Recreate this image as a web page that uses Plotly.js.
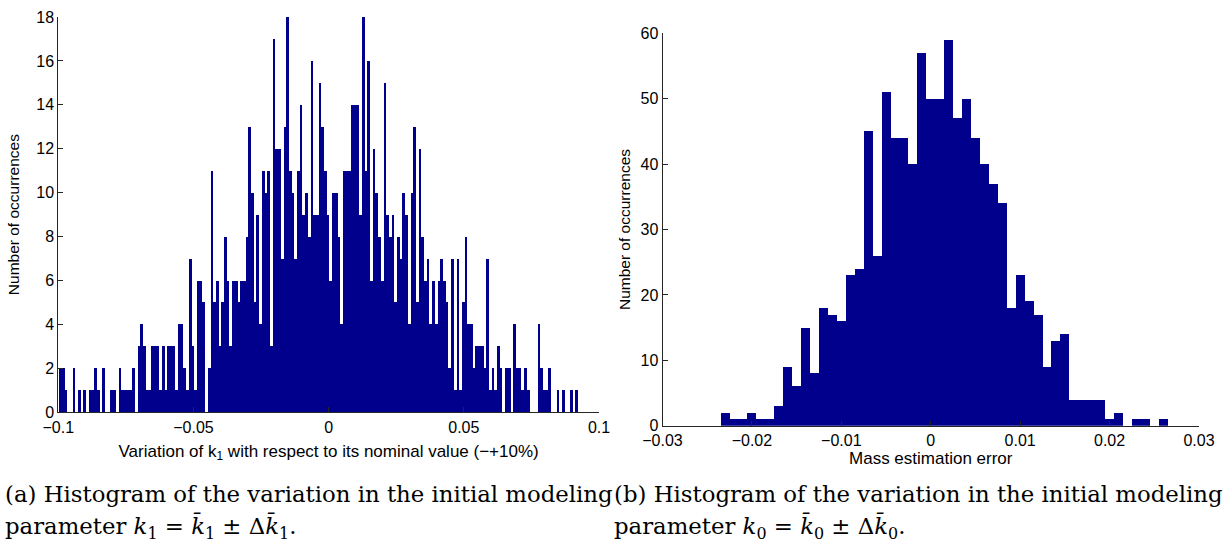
<!DOCTYPE html>
<html>
<head>
<meta charset="utf-8">
<script src="https://cdn.plot.ly/plotly-3.0.1.min.js"></script>
<style>
  html, body { margin: 0; padding: 0; background: #fff; }
  #chart { width: 1225px; height: 545px; }
</style>
</head>
<body>
<div id="chart"></div>
<script>
// ---- Data ----
// Left histogram: variation of k1, bins of width 0.001 starting at -0.0997
const k1BinStart = -0.0997;
const k1BinWidth = 0.001;
const k1Counts = [
  2,2,1,0,0,2,0,1,0,1, 0,1,1,2,1,0,2,0,0,1,
  1,0,2,1,1,1,1,2,0,3, 4,3,1,1,3,3,3,1,3,1,
  3,3,3,1,4,4,2,1,7,3, 1,6,6,5,0,2,11,5,6,3,
  5,8,6,3,6,6,5,6,6,8, 13,10,5,9,4,11,10,11,3,17,
  12,12,7,13,18,11,10,7,11,14, 9,10,8,16,9,9,15,13,11,9,
  6,10,10,8,4,11,11,11,14,14, 14,9,18,11,16,6,12,10,8,6,
  15,9,8,9,5,8,7,10,9,4, 10,13,5,12,8,6,7,4,6,4,
  6,7,6,5,2,7,1,7,1,5, 8,4,4,2,3,3,3,2,7,1,
  2,1,3,2,0,2,2,0,4,2, 2,1,2,1,0,0,0,4,2,1,
  1,2,0,0,1,0,1,0,0,1, 0,1
];
const k1TickVals = [-0.1, -0.05, 0, 0.05, 0.1];
const k1TickText = ['\u22120.1', '\u22120.05', '0', '0.05', '0.1'];

// Right histogram: mass estimation error, bins of width 0.001 centred on -0.023 ... 0.026
const massBinStart = -0.0235;
const massBinWidth = 0.001;
const massCounts = [
  2,1,1,2,1,1,3,9,6,15, 8,18,17,16,23,24,45,26,51,44,
  44,40,57,50,50,59,47,50,44,40, 37,34,18,23,19,17,9,13,14,4,
  4,4,4,1,2,0,1,1,0,1
];
const massTickVals = [-0.03, -0.02, -0.01, 0, 0.01, 0.02, 0.03];
const massTickText = ['\u22120.03', '\u22120.02', '\u22120.01', '0', '0.01', '0.02', '0.03'];

const leftYTicks = [0,2,4,6,8,10,12,14,16,18];
const rightYTicks = [0,10,20,30,40,50,60];

// ---- Build traces ----
function centers(start, w, n) {
  const out = [];
  for (let i = 0; i < n; i++) out.push(start + (i + 0.5) * w);
  return out;
}
const barColor = 'rgb(0,0,140)';

const traces = [
  {
    type: 'bar', xaxis: 'x', yaxis: 'y',
    x: centers(k1BinStart, k1BinWidth, k1Counts.length),
    y: k1Counts, width: k1BinWidth,
    marker: { color: barColor, line: { width: 0 } },
    hoverinfo: 'x+y', showlegend: false
  },
  {
    type: 'bar', xaxis: 'x2', yaxis: 'y2',
    x: centers(massBinStart, massBinWidth, massCounts.length),
    y: massCounts, width: massBinWidth,
    marker: { color: barColor, line: { width: 0 } },
    hoverinfo: 'x+y', showlegend: false
  }
];

const W = 1225, H = 545;
const sans = 'Liberation Sans, Arial, sans-serif';
const serif = 'DejaVu Serif, Liberation Serif, serif';
const tickFont = { family: sans, size: 16, color: '#000' };
const xTitleFont = { family: sans, size: 17, color: '#000' };
const yTitleFont = { family: sans, size: 15.5, color: '#000' };
const capFont = { family: serif, size: 22.8, color: '#000' };
const axisCommon = {
  showgrid: false, zeroline: false, showline: true, linecolor: '#262626', linewidth: 1,
  ticks: 'inside', ticklen: 5, tickwidth: 1, tickcolor: '#262626',
  tickfont: tickFont, fixedrange: true
};

const layout = {
  width: W, height: H,
  margin: { l: 0, r: 0, t: 0, b: 0 },
  paper_bgcolor: '#fff', plot_bgcolor: '#fff',
  bargap: 0, showlegend: false,
  xaxis: Object.assign({}, axisCommon, {
    domain: [58.3 / W, 599 / W], anchor: 'y', range: [-0.1, 0.1],
    tickmode: 'array', tickvals: k1TickVals, ticktext: k1TickText,
    title: { text: 'Variation of k<sub>1</sub> with respect to its nominal value (\u2212+10%)', font: xTitleFont, standoff: 10 }
  }),
  yaxis: Object.assign({}, axisCommon, {
    domain: [1 - 412.3 / H, 1 - 17 / H], anchor: 'x', range: [0, 18],
    tickmode: 'array', tickvals: leftYTicks,
    title: { text: 'Number of occurrences', font: yTitleFont, standoff: 12 }
  }),
  xaxis2: Object.assign({}, axisCommon, {
    domain: [662.5 / W, 1199 / W], anchor: 'y2', range: [-0.03, 0.03],
    tickmode: 'array', tickvals: massTickVals, ticktext: massTickText,
    title: { text: 'Mass estimation error', font: xTitleFont, standoff: 2 }
  }),
  yaxis2: Object.assign({}, axisCommon, {
    domain: [1 - 425.7 / H, 1 - 33.3 / H], anchor: 'x2', range: [0, 60],
    tickmode: 'array', tickvals: rightYTicks,
    title: { text: 'Number of occurrences', font: yTitleFont, standoff: 6 }
  }),
  annotations: [
    { xref: 'paper', yref: 'paper', x: 3 / W, y: 1 - 494 / H, xanchor: 'left', yanchor: 'middle', showarrow: false,
      text: '(a) Histogram of the variation in the initial modeling', font: capFont },
    { xref: 'paper', yref: 'paper', x: 3 / W, y: 1 - 527 / H, xanchor: 'left', yanchor: 'middle', showarrow: false,
      text: 'parameter <i>k</i><sub>1</sub> = <i>k\u0304</i><sub>1</sub> \u00b1 \u0394<i>k\u0304</i><sub>1</sub>.', font: capFont },
    { xref: 'paper', yref: 'paper', x: 612 / W, y: 1 - 494 / H, xanchor: 'left', yanchor: 'middle', showarrow: false,
      text: '(b) Histogram of the variation in the initial modeling', font: capFont },
    { xref: 'paper', yref: 'paper', x: 612 / W, y: 1 - 527 / H, xanchor: 'left', yanchor: 'middle', showarrow: false,
      text: 'parameter <i>k</i><sub>0</sub> = <i>k\u0304</i><sub>0</sub> \u00b1 \u0394<i>k\u0304</i><sub>0</sub>.', font: capFont }
  ]
};

Plotly.newPlot('chart', traces, layout, { displayModeBar: false, staticPlot: true });
</script>
</body>
</html>
